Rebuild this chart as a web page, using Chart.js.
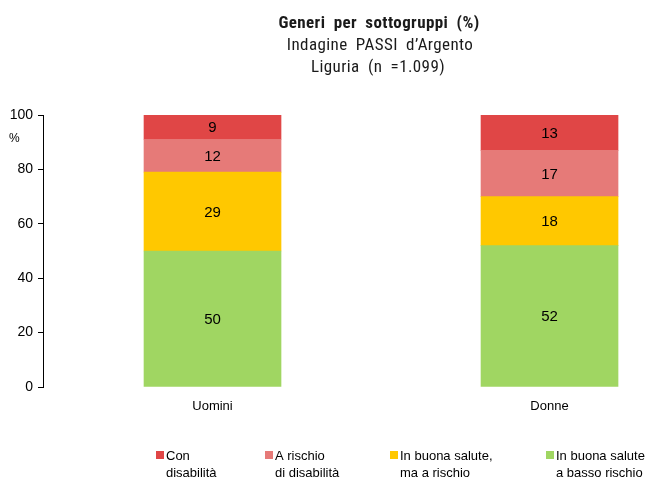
<!DOCTYPE html>
<html>
<head>
<meta charset="utf-8">
<script src="https://cdn.jsdelivr.net/npm/chart.js@4"></script>
<style>
  html, body { margin: 0; padding: 0; background: #fff; }
  #wrap { width: 658px; height: 480px; }
</style>
</head>
<body>
<div id="wrap"><canvas id="chart" width="658" height="480"></canvas></div>
<script>
// --- Dati ---
const categories = ['Uomini', 'Donne'];
const legendLabels = [['Con', 'disabilità'], ['A rischio', 'di disabilità'], ['In buona salute,', 'ma a rischio'], ['In buona salute', 'a basso rischio']];
const conDisabilita = [9, 13];
const aRischioDisabilita = [12, 17];
const buonaSaluteARischio = [29, 18];
const bassoRischio = [50, 52];
const yTicks = [0, 20, 40, 60, 80, 100];

const titleLines = ['Generi per sottogruppi (%)', 'Indagine PASSI d\u2019Argento', 'Liguria (n =1.099)'];

const colors = {
    red: '#E04646',
    pink: '#E67A78',
    yellow: '#FFC800',
    green: '#A0D662'
};

const baseFont = '"Liberation Sans", Arimo, Arial, sans-serif';
const narrowFont = '"Roboto Condensed", "Liberation Sans Narrow", "DejaVu Sans Condensed", sans-serif';

const toPoints = arr => arr.map((v, i) => ({ x: i, y: v }));

// ordine: dal basso verso l'alto
const datasets = [
    { label: legendLabels[3], data: toPoints(bassoRischio), backgroundColor: colors.green },
    { label: legendLabels[2], data: toPoints(buonaSaluteARischio), backgroundColor: colors.yellow },
    { label: legendLabels[1], data: toPoints(aRischioDisabilita), backgroundColor: colors.pink },
    { label: legendLabels[0], data: toPoints(conDisabilita), backgroundColor: colors.red }
];

// titolo disegnato a mano (centrato piu' a destra come nell'originale)
const titlePlugin = {
    id: 'titoli',
    afterDraw(chart) {
        const ctx = chart.ctx;
        ctx.save();
        ctx.fillStyle = '#1a1a1a';
        ctx.textAlign = 'center';
        ctx.textBaseline = 'alphabetic';
        ctx.wordSpacing = '4px';
        ctx.letterSpacing = '0.4px';
        ctx.font = 'bold 17px ' + narrowFont;
        ctx.fillText(titleLines[0], 379, 28);
        ctx.font = '17px ' + narrowFont;
        ctx.fillText(titleLines[1], 380, 50);
        ctx.fillText(titleLines[2], 378, 72);
        ctx.restore();
        // unità asse y
        ctx.save();
        ctx.fillStyle = '#000';
        ctx.font = '12px ' + baseFont;
        ctx.textBaseline = 'middle';
        ctx.textAlign = 'left';
        ctx.fillText('%', 9, 139);
        ctx.restore();
    }
};

// etichette dei valori al centro dei segmenti
const valuesPlugin = {
    id: 'valori',
    afterDatasetsDraw(chart) {
        const ctx = chart.ctx;
        ctx.save();
        ctx.fillStyle = '#000';
        ctx.font = '15px ' + baseFont;
        ctx.textAlign = 'center';
        ctx.textBaseline = 'middle';
        chart.data.datasets.forEach((ds, di) => {
            const meta = chart.getDatasetMeta(di);
            meta.data.forEach((bar, i) => {
                ctx.fillText(String(ds.data[i].y), bar.x, (bar.y + bar.base) / 2 + 1);
            });
        });
        ctx.restore();
    }
};

// legenda su due righe
const legendPlugin = {
    id: 'legenda',
    afterDraw(chart) {
        const ctx = chart.ctx;
        const xs = [156, 265, 390, 546];
        const order = [3, 2, 1, 0];
        ctx.save();
        ctx.font = '13px ' + baseFont;
        ctx.textBaseline = 'middle';
        ctx.textAlign = 'left';
        order.forEach((di, k) => {
            const ds = chart.data.datasets[di];
            ctx.fillStyle = ds.backgroundColor;
            ctx.fillRect(xs[k], 451, 8, 8);
            ctx.fillStyle = '#000';
            ctx.fillText(ds.label[0], xs[k] + 10, 456);
            ctx.fillText(ds.label[1], xs[k] + 10, 473);
        });
        ctx.restore();
    }
};

function draw() {
    new Chart(document.getElementById('chart').getContext('2d'), {
        type: 'bar',
        data: { datasets: datasets },
        options: {
            responsive: false,
            animation: false,
            layout: { padding: { top: 115, right: 18, left: 0, bottom: 0 } },
            datasets: { bar: { barThickness: 137, borderWidth: 0 } },
            plugins: {
                legend: { display: false },
                title: { display: false },
                tooltip: { enabled: false }
            },
            scales: {
                x: {
                    type: 'linear',
                    stacked: true,
                    offset: false,
                    min: -0.503,
                    max: 1.2685,
                    grid: { display: false },
                    border: { display: false },
                    afterBuildTicks: s => { s.ticks = categories.map((c, i) => ({ value: i })); },
                    afterFit: s => { s.height = 93; },
                    ticks: {
                        padding: 4,
                        color: '#000',
                        font: { family: baseFont, size: 13 },
                        maxRotation: 0,
                        callback: v => categories[v]
                    }
                },
                y: {
                    stacked: true,
                    min: 0,
                    max: 100,
                    afterBuildTicks: s => { s.ticks = yTicks.map(v => ({ value: v })); },
                    afterFit: s => { s.width = 43; },
                    grid: { drawOnChartArea: false, tickLength: 5, color: '#000' },
                    border: { color: '#000', width: 1 },
                    ticks: {
                        padding: 5,
                        color: '#000',
                        font: { family: baseFont, size: 14 }
                    }
                }
            }
        },
        plugins: [titlePlugin, valuesPlugin, legendPlugin]
    });
}

Promise.all([
    document.fonts.load('13px "Liberation Sans"'),
    document.fonts.load('bold 17px "Roboto Condensed"'),
    document.fonts.load('17px "Roboto Condensed"')
]).then(draw, draw);
</script>
</body>
</html>
